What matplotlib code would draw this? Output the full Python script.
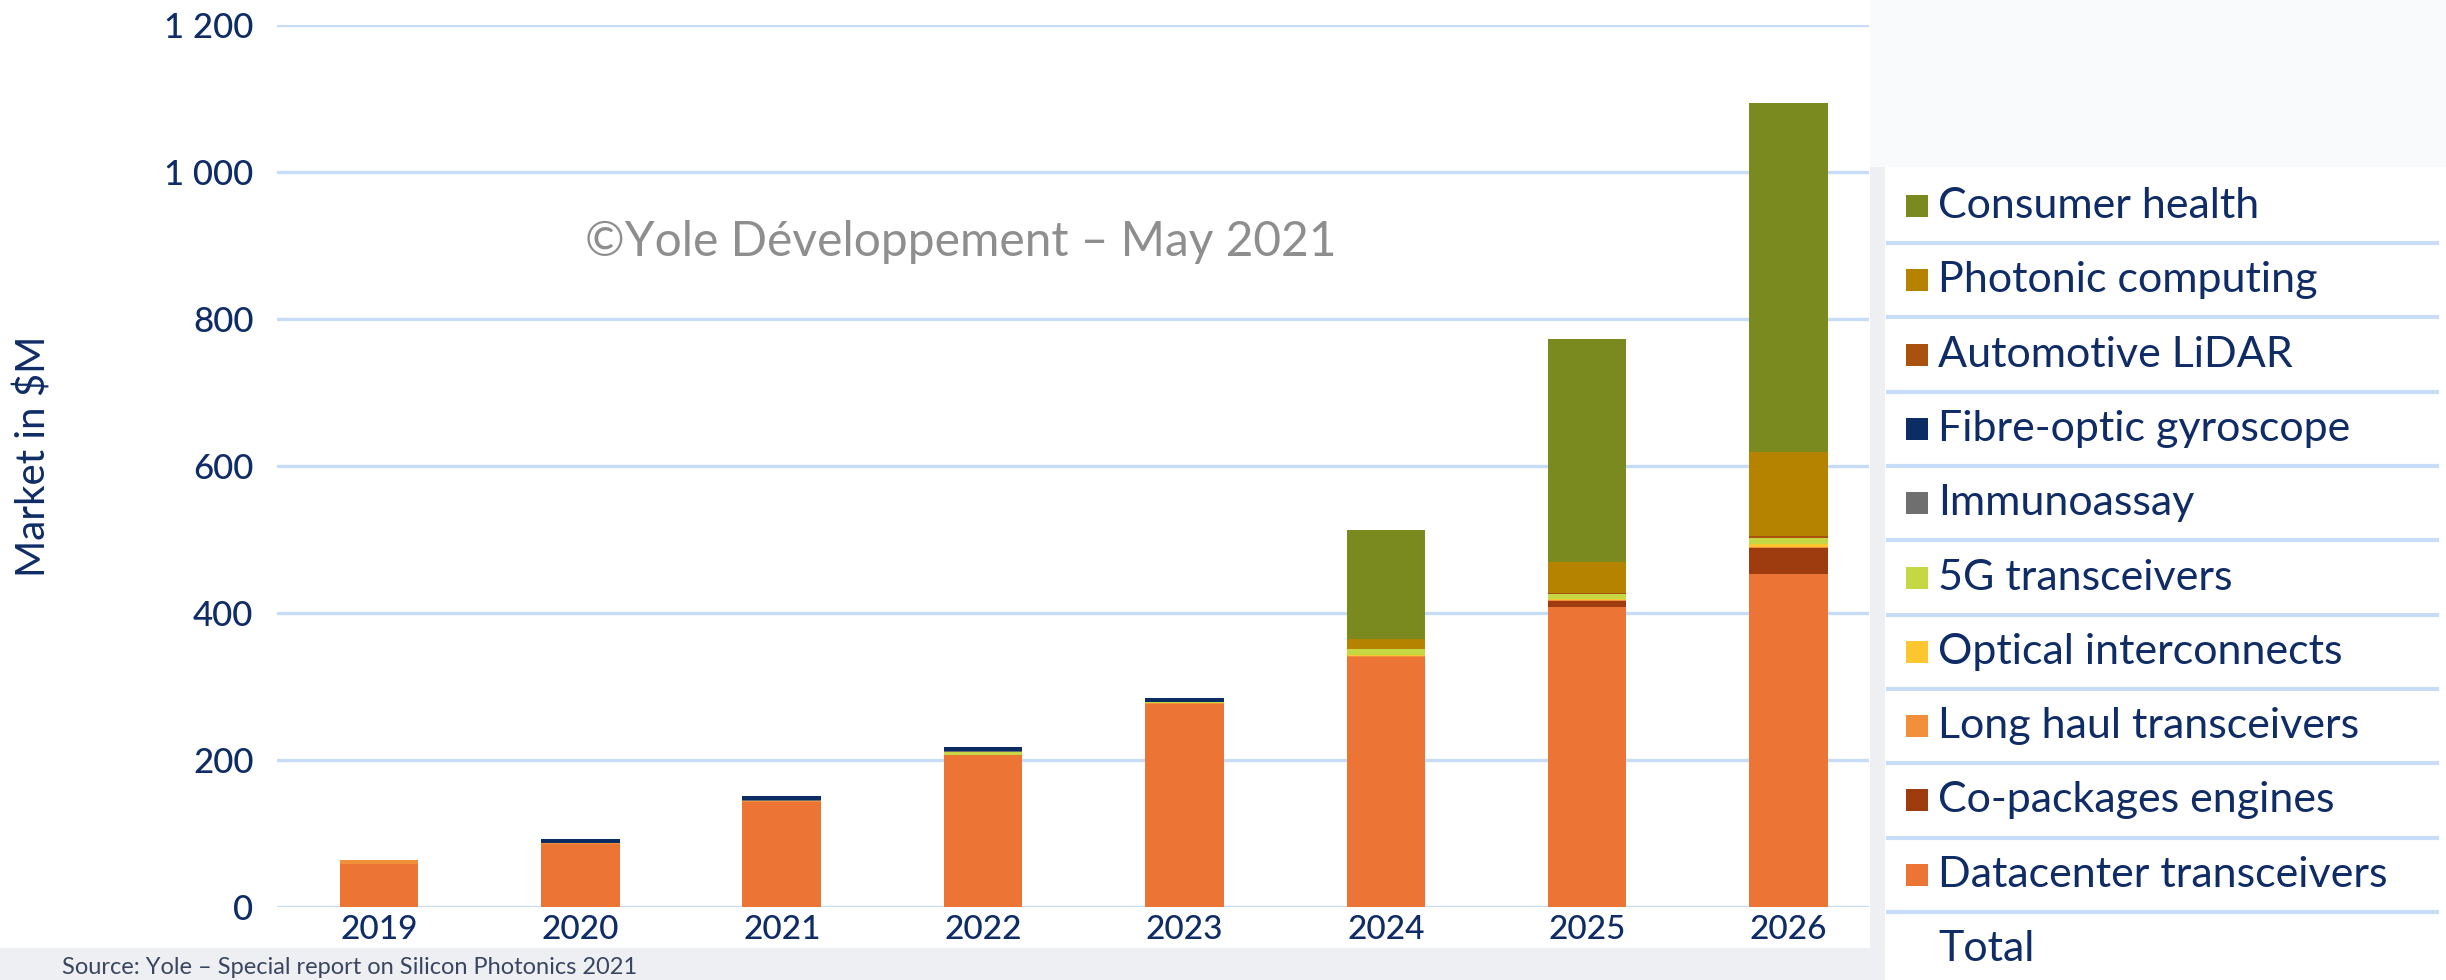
import numpy as np
import matplotlib.pyplot as plt
from matplotlib.patches import Rectangle
from matplotlib.lines import Line2D

# данные (млн $)
years = ['2019', '2020', '2021', '2022', '2023', '2024', '2025', '2026']
datacenter = [58, 85, 143, 206, 276, 340, 408, 453]
co_packages = [0, 0, 0, 0, 0, 0, 8, 35]
long_haul = [6, 1, 1, 1, 1, 1, 1, 1]
optical = [0, 0, 0, 0, 0, 2, 1, 5]
fiveg = [0, 0, 0, 4, 1, 7, 8, 8]
immuno = [0, 1, 1, 1, 1, 1, 0, 0]
gyro = [0, 5, 5, 5, 5, 0, 0, 0]
lidar = [0, 0, 0, 0, 0, 0, 1, 2]
photonic = [0, 0, 0, 0, 0, 13, 42, 114]
consumer = [0, 0, 0, 0, 0, 148, 304, 476]

series = [
    ('Datacenter transceivers', datacenter, '#EC7434'),
    ('Co-packages engines', co_packages, '#9E3C10'),
    ('Long haul transceivers', long_haul, '#F28F3B'),
    ('Optical interconnects', optical, '#FCC630'),
    ('5G transceivers', fiveg, '#C5D843'),
    ('Immunoassay', immuno, '#6F6F6F'),
    ('Fibre-optic gyroscope', gyro, '#0B2D63'),
    ('Automotive LiDAR', lidar, '#A9520F'),
    ('Photonic computing', photonic, '#B58300'),
    ('Consumer health', consumer, '#7A8A1F'),
]

navy = '#0F2C66'
grid_c = '#C6DCF7'
plt.rcParams['font.family'] = ['Lato', 'DejaVu Sans']

W, H = 2446, 980
fig = plt.figure(figsize=(W / 100, H / 100), dpi=100)
fig.patch.set_facecolor('#EDEFF2')

# подложки: светлый верх справа, белая область графика и панель легенды
fig.add_artist(Rectangle((1870 / W, 1 - 167 / H), 1 - 1870 / W, 167 / H, transform=fig.transFigure,
                         facecolor='#F9FAFB', edgecolor='none', zorder=0))
fig.add_artist(Rectangle((0, 1 - 948 / H), 1870 / W, 948 / H, transform=fig.transFigure,
                         facecolor='white', edgecolor='none', zorder=0))
fig.add_artist(Rectangle((1885 / W, 0), 1 - 1885 / W, 1 - 167 / H, transform=fig.transFigure,
                         facecolor='white', edgecolor='none', zorder=0))

ax = fig.add_axes([277 / W, 1 - 906.7 / H, (1869 - 277) / W, (906.7 - 24.7) / H])
ax.set_facecolor('none')

x = np.arange(len(years))
bottom = np.zeros(len(years))
for name, vals, col in series:
    ax.bar(x, vals, width=0.39, bottom=bottom, color=col, edgecolor='none', zorder=3)
    bottom += np.array(vals)

ax.set_xlim(-0.507, 7.40)
ax.set_ylim(0, 1200)
ax.set_yticks(range(0, 1201, 200))
ax.set_yticklabels(['0', '200', '400', '600', '800', '1 000', '1 200'])
ax.set_xticks(x)
ax.set_xticklabels(years)
ax.yaxis.grid(True, color=grid_c, lw=2.4, zorder=0)
ax.set_axisbelow(True)
for s in ax.spines.values():
    s.set_visible(False)
ax.tick_params(axis='y', length=0, pad=17, labelsize=25, labelcolor=navy)
ax.tick_params(axis='x', length=0, pad=6, labelsize=24, labelcolor=navy)
for lab in ax.get_xticklabels() + ax.get_yticklabels():
    lab.set_fontweight('medium')

fig.text(34 / W, 1 - 456 / H, 'Market in $M', rotation=90, ha='center', va='center',
         fontsize=29, color=navy)
fig.text(961 / W, 1 - 242 / H, '©Yole Développement – May 2021', ha='center', va='center',
         fontsize=34.5, color='#8E8E8E')
fig.text(62 / W, 1 - 978 / H, 'Source: Yole – Special report on Silicon Photonics 2021',
         ha='left', va='bottom', fontsize=17, color='#3A4560')

# легенда
row0, step = 206, 74.3
rows = [s for s in series[::-1]] + [('Total', None, None)]
for i, (name, vals, col) in enumerate(rows):
    yc = row0 + i * step
    if col is not None:
        fig.add_artist(Rectangle((1906 / W, 1 - (yc + 11) / H), 22 / W, 22 / H,
                                 transform=fig.transFigure, facecolor=col, edgecolor='none'))
    fig.text(1938 / W, 1 - yc / H, name, ha='left', va='center', fontsize=31, color=navy)
    if i < len(rows) - 1:
        ys = 1 - (yc + step / 2) / H
        fig.add_artist(Line2D([1888 / W, 2437 / W], [ys, ys], transform=fig.transFigure,
                              color=grid_c, lw=3))

fig.savefig('out.png', dpi=100, facecolor=fig.get_facecolor())
